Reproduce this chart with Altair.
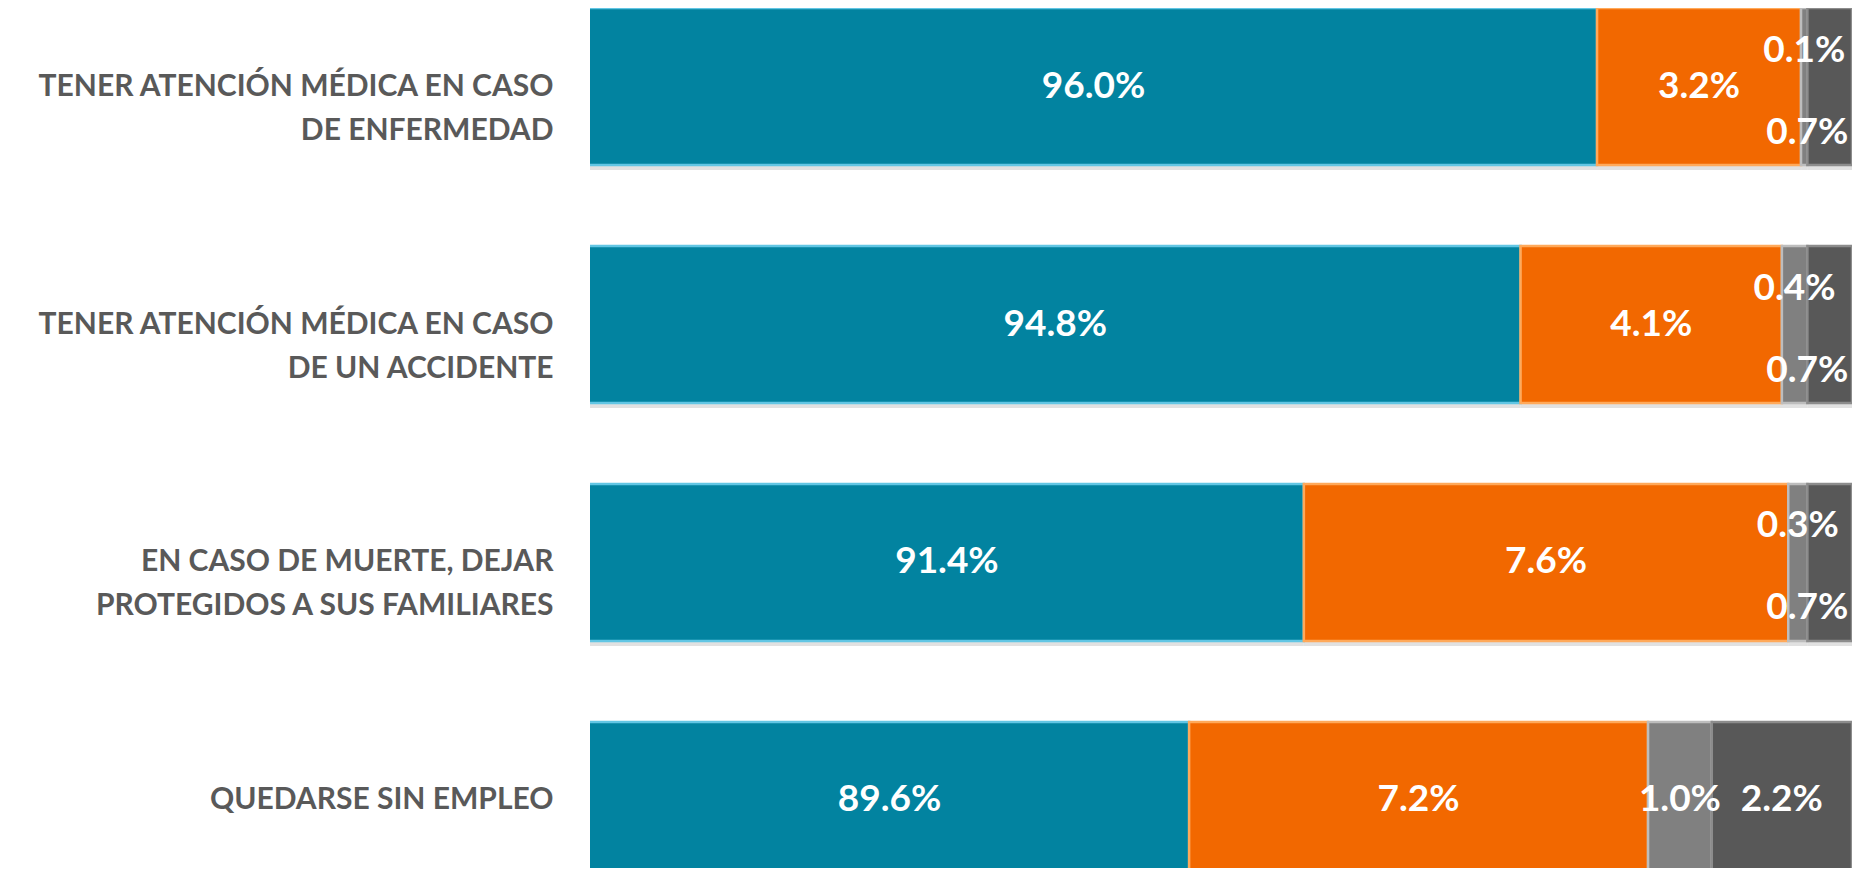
import altair as alt
import pandas as pd

categories = [
    "TENER ATENCIÓN MÉDICA EN CASO|DE ENFERMEDAD",
    "TENER ATENCIÓN MÉDICA EN CASO|DE UN ACCIDENTE",
    "EN CASO DE MUERTE, DEJAR|PROTEGIDOS A SUS FAMILIARES",
    "QUEDARSE SIN EMPLEO",
]
series = ["Sí", "No", "Ns", "Nc"]
s_si = [96.0, 94.8, 91.4, 89.6]
s_no = [3.2, 4.1, 7.6, 7.2]
s_ns = [0.1, 0.4, 0.3, 1.0]
s_nc = [0.7, 0.7, 0.7, 2.2]

fill_colors = ["#0283A0", "#F26800", "#808080", "#585858"]
edge_colors = ["#62C6E4", "#FFA95A", "#BDBDBD", "#8C8C8C"]

X_MIN, X_MAX = 80.2, 100

rows = []
for i, cat in enumerate(categories):
    vals = [s_si[i], s_no[i], s_ns[i], s_nc[i]]
    start = 0.0
    for j, v in enumerate(vals):
        end = start + v
        vis_start = max(start, X_MIN)
        center = (vis_start + end) / 2
        small = v < 0.8
        if small:
            center = min(center, 99.3)
        pos = "mid"
        if small and j == 2:
            pos = "up"
        elif small and j == 3:
            pos = "down"
        rows.append({
            "cat": cat, "serie": series[j], "order": j,
            "start": start, "end": end, "val": v,
            "label": f"{v:.1f}%", "lx": center, "pos": pos,
        })
        start = end

df = pd.DataFrame(rows)

def yscale(shift=0):
    return alt.Scale(type="band", domain=categories, paddingInner=0.34,
                     paddingOuter=0, range=[shift, 871 + shift])

y_axis = alt.Axis(
    domain=False, ticks=False, labelPadding=37, labelLimit=0,
    labelFontSize=30, labelFont="Lato", labelFontWeight="bold",
    labelColor="#595959", labelLineHeight=44,
    labelExpr="split(datum.label, '|')",
)
x_scale = alt.Scale(domain=[X_MIN, X_MAX], nice=False, zero=False)

base = alt.Chart(df)

shadow = base.mark_bar(clip=True, color="#C8C8C8", opacity=0.55).encode(
    y=alt.Y("cat:N", sort=categories, title=None, scale=yscale(5), axis=None),
    x=alt.X("start:Q", scale=x_scale, axis=None),
    x2="end:Q",
)

bars = base.mark_bar(clip=True, strokeWidth=2.5, strokeOpacity=1).encode(
    y=alt.Y("cat:N", sort=categories, title=None, scale=yscale(0), axis=y_axis),
    x=alt.X("start:Q", scale=x_scale, axis=None),
    x2="end:Q",
    color=alt.Color("serie:N", scale=alt.Scale(domain=series, range=fill_colors), legend=None),
    stroke=alt.Stroke("serie:N", scale=alt.Scale(domain=series, range=edge_colors), legend=None),
)

def labels(pos, dy):
    return base.transform_filter(alt.datum.pos == pos).mark_text(
        font="Lato", fontWeight="bold", fontSize=37, color="white",
        align="center", baseline="middle", dy=dy,
    ).encode(
        y=alt.Y("cat:N", sort=categories, scale=yscale(0), axis=None),
        x=alt.X("lx:Q", scale=x_scale),
        text="label:N",
    )

chart = alt.layer(
    shadow, bars, labels("mid", 0), labels("up", -36), labels("down", 46)
).resolve_scale(y="independent").properties(
    width=1262, height=860,
    padding={"left": 582, "top": 0, "right": 0, "bottom": 0},
    autosize=alt.AutoSizeParams(type="none"),
    background="white",
).configure_view(stroke=None)

chart.save("out.html", embed_options={"renderer": "svg", "actions": False})
